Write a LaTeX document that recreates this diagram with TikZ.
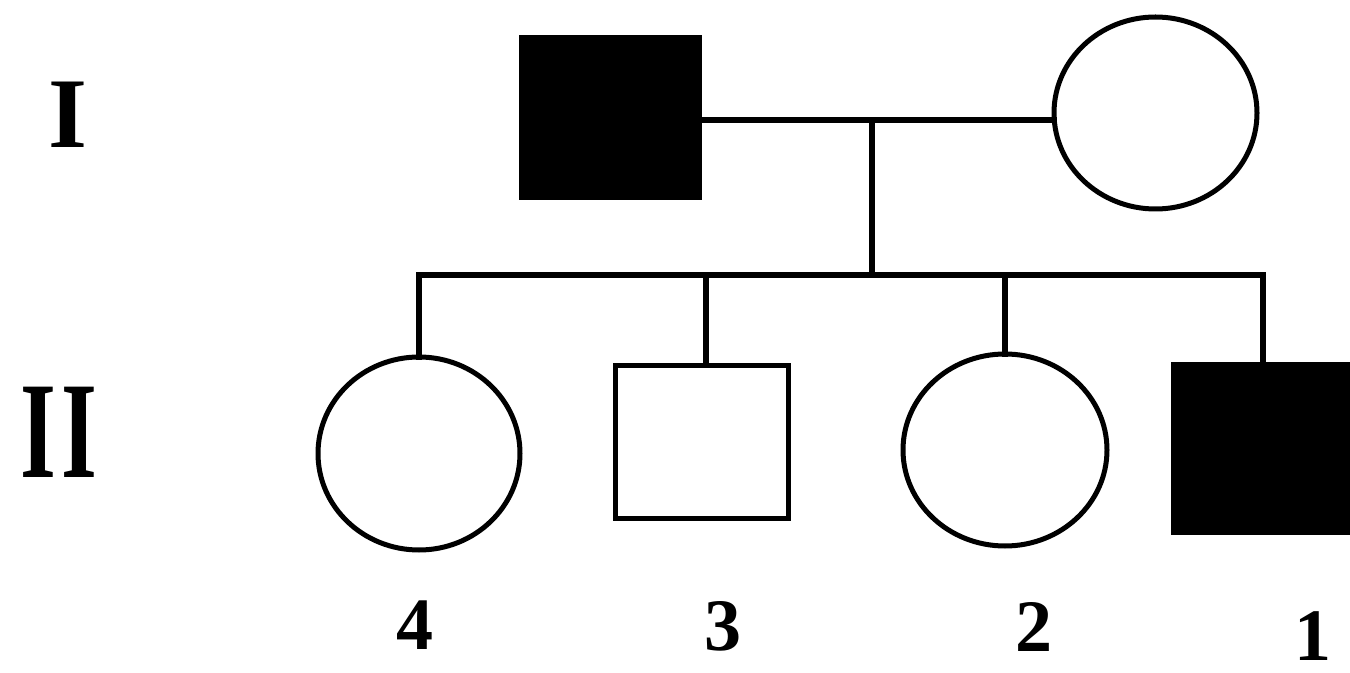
\documentclass[tikz,border=0pt]{standalone}
\usepackage{fontspec}
\setmainfont{Liberation Serif}
\usetikzlibrary{shapes.geometric}
\begin{document}
\begin{tikzpicture}[x=0.5pt,y=-0.5pt,
  person/.style={inner sep=0pt, outer sep=0pt, line width=2.5pt, draw=black},
  male/.style={person, rectangle},
  female/.style={person, ellipse},
  affected/.style={fill=black},
  link/.style={line width=2.8pt, draw=black, line cap=rect},
  gen/.style={font=\bfseries\fontsize{50}{50}\selectfont, inner sep=0pt},
  num/.style={font=\bfseries\fontsize{37}{37}\selectfont, inner sep=0pt}]
\path[use as bounding box] (0,0) rectangle (1350,673);
% generation labels
\node[gen] (g1) at (68,115) {I};
\node[inner sep=0pt] (g2) at (59,432) {\scalebox{1}[1.5]{\bfseries\fontsize{46}{46}\selectfont I\kern3pt I}};
% generation I
\node[male, affected, minimum width=89pt, minimum height=80pt] (F) at (610.5,117.5) {};
\node[female, minimum width=101.5pt, minimum height=96pt] (M) at (1155.5,113) {};
% generation II
\node[female, minimum width=101pt, minimum height=96.5pt] (C4) at (419,453.5) {};
\node[male, minimum width=86.5pt, minimum height=76.5pt] (C3) at (702,442) {};
\node[female, minimum width=102pt, minimum height=96pt] (C2) at (1005,450) {};
\node[male, affected, minimum width=90pt, minimum height=84pt] (C1) at (1263,449) {};
% connectors
\coordinate (mar) at (872,120);
\coordinate (sib) at (872,275);
\draw[link] (F.east |- mar) -- (M.west |- mar);
\draw[link] (mar) -- (sib);
\draw[link] (C4.north |- sib) -- (C1.north |- sib);
\draw[link] (C4.north |- sib) -- (C4.north);
\draw[link] ([xshift=2pt]C3.north |- sib) -- ([xshift=2pt]C3.north);
\draw[link] (C2.north |- sib) -- (C2.north);
\draw[link] (C1.north |- sib) -- (C1.north);
% numbers
\node[num] (n4) at (415,625) {4};
\node[num] (n3) at (723,626) {3};
\node[num] (n2) at (1034,627) {2};
\node[num] (n1) at (1313,636) {1};
\end{tikzpicture}
\end{document}
